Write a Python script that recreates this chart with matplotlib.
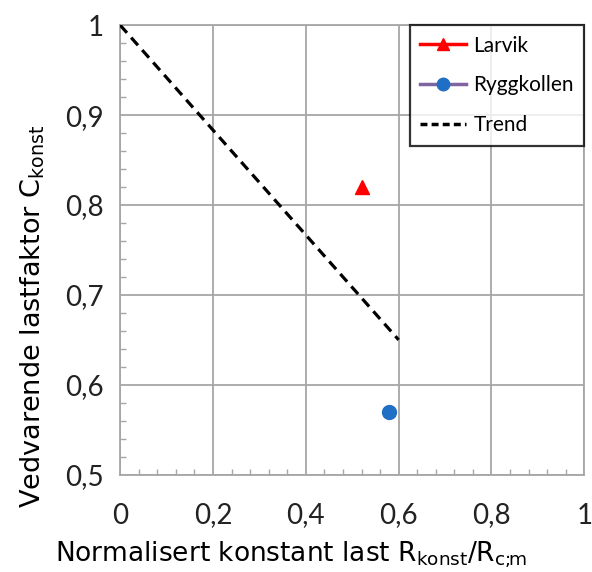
import matplotlib
matplotlib.use("Agg")
import matplotlib.pyplot as plt
from matplotlib.ticker import MultipleLocator

# data
larvik_x = [0.52]
larvik_y = [0.82]
rygg_x = [0.58]
rygg_y = [0.57]
trend_x = [0.0, 0.6]
trend_y = [1.0, 0.65]

x_ticks = [0, 0.2, 0.4, 0.6, 0.8, 1.0]
x_ticklabels = ["0", "0,2", "0,4", "0,6", "0,8", "1"]
y_ticks = [0.5, 0.6, 0.7, 0.8, 0.9, 1.0]
y_ticklabels = ["0,5", "0,6", "0,7", "0,8", "0,9", "1"]

grid_col = "#a6a6a6"

fig = plt.figure(figsize=(5.92, 5.72), dpi=100)
ax = fig.add_axes([0.203, 0.170, 0.784, 0.786])

ax.plot(trend_x, trend_y, color="black", linewidth=2.3, dashes=(3.2, 2.0), label="Trend", zorder=3)
ax.plot(larvik_x, larvik_y, color="#ff0000", marker="^", markersize=10.5, linestyle="none", zorder=4)
ax.plot(rygg_x, rygg_y, color="#1f6fc5", marker="o", markersize=10, linestyle="none", zorder=4)

# legend proxies (line + marker like the original)
h1, = ax.plot([], [], color="#ff0000", linewidth=2.5, marker="^", markersize=9, label="Larvik")
h2, = ax.plot([], [], color="#8064a2", linewidth=2.5, marker="o", markersize=9,
              markerfacecolor="#1f6fc5", markeredgecolor="#1f6fc5", label="Ryggkollen")
h3, = ax.plot([], [], color="black", linewidth=2.5, dashes=(2.0, 1.2), label="Trend")

ax.set_xlim(0, 1)
ax.set_ylim(0.5, 1)
ax.set_xticks(x_ticks)
ax.set_xticklabels(x_ticklabels)
ax.set_yticks(y_ticks)
ax.set_yticklabels(y_ticklabels)
ax.xaxis.set_minor_locator(MultipleLocator(0.04))
ax.yaxis.set_minor_locator(MultipleLocator(0.02))
ax.grid(True, which="major", color=grid_col, linewidth=1.3)
ax.set_axisbelow(True)
for s in ax.spines.values():
    s.set_color(grid_col)
    s.set_linewidth(1.3)

ax.tick_params(which="major", length=0, labelsize=20, pad=12)
ax.tick_params(which="minor", direction="in", length=4, color=grid_col, width=1)
ax.tick_params(axis="x", which="major", pad=20)
for lab in ax.get_xticklabels() + ax.get_yticklabels():
    lab.set_family("Lato")
    lab.set_color("#222222")

ax.set_xlabel(r"Normalisert konstant last R$_{\mathregular{konst}}$/R$_{\mathregular{c;\!\!m}}$",
              fontsize=19, ha="center", va="center")
ax.set_ylabel(r"Vedvarende lastfaktor C$_{\mathregular{konst}}$", fontsize=19.5,
              ha="center", va="center")
ax.xaxis.set_label_coords(0.368, -0.178)
ax.yaxis.set_label_coords(-0.188, 0.353)

leg = ax.legend(handles=[h1, h2, h3], loc="upper right", frameon=True,
                fancybox=False, edgecolor="black", borderaxespad=0, handlelength=2.2,
                handletextpad=0.35, labelspacing=0.95, borderpad=0.5,
                prop={"family": "Lato", "size": 15})
leg.get_frame().set_linewidth(1.6)

fig.savefig("out.png", dpi=100, facecolor="white")
